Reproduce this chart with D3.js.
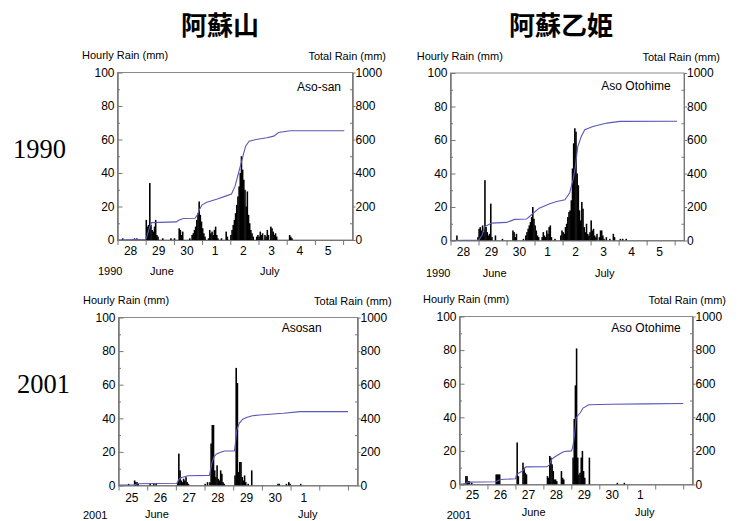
<!DOCTYPE html>
<html><head><meta charset="utf-8">
<script src="https://cdn.jsdelivr.net/npm/d3@7"></script>
<style>
body{margin:0;background:#fff;}
svg{display:block;}
text{font-family:"Liberation Sans",Arial,sans-serif;fill:#000;}
</style></head>
<body>
<svg id="chart" width="741" height="521"></svg>
<script>
// ---------- labels ----------
const columnTitles = ["阿蘇山", "阿蘇乙姫"];
const yearLabels = ["1990", "2001"];
const stationNames = ["Aso-san", "Aso Otohime", "Asosan", "Aso Otohime"];
const dayLabels1990 = ["28", "29", "30", "1", "2", "3", "4", "5"];
const dayLabels2001 = ["25", "26", "27", "28", "29", "30", "1"];
const hourlyTicks = [0, 20, 40, 60, 80, 100];
const hourlyMinorTicks = [10, 30, 50, 70, 90];
const totalTicks = [0, 200, 400, 600, 800, 1000];
const totalMinorTicks = [100, 300, 500, 700, 900];
const dayBoundaries = [0, 24, 48, 72, 96, 120, 144, 168, 192];

// ---------- Aso-san 1990 (hours from 28 June 00:00) ----------
const asoSan1990Hours = [4,14,16,24,25,26,27,28,29,30,31,32,33,34,38,45,48,52,53,54,55,61,63,64,65,66,67,68,69,70,71,72,73,74,77,78,79,80,81,82,83,84,85,88,92,93,96,97,98,99,100,101,102,103,104,105,106,107,108,109,110,111,112,113,114,115,118,119,120,121,122,123,125,126,127,128,130,131,132,133,134,135,146,147,148];
const asoSan1990Rain = [1,1,1,12,8,9,34,9,6,5,8,12,3,2,1,1,1,7,6,3,5,1,3,4,6,8,12,16,23,15,11,7,4,2,1,6,4,5,3,6,8,3,1,1,5,2,3,6,9,12,16,21,26,32,40,50,42,36,30,20,29,15,10,6,4,2,2,3,2,5,3,4,3,2,6,3,8,7,5,3,4,2,3,2,1];
const asoSan1990TotalHours = [0,24,25,27,29,50,52,56,66,68,70,72,76,85,92,97,100,103,106,109,112,118,127,133,137,147,193];
const asoSan1990Total = [0,4,20,70,104,108,118,128,130,150,185,210,225,245,262,275,320,400,480,560,590,600,610,620,642,652,652];

// ---------- Aso Otohime 1990 ----------
const asoOtohime1990Hours = [5,23,24,25,26,27,28,29,30,31,32,33,34,35,38,44,53,54,55,56,62,64,65,66,67,68,69,70,71,72,73,74,75,78,79,80,81,82,83,84,85,86,89,94,95,96,97,98,99,100,101,102,103,104,105,106,107,108,109,110,111,112,113,114,115,116,117,118,119,120,121,122,123,124,125,127,128,129,130,131,133,136,139,140,145,147,150];
const asoOtohime1990Rain = [3,2,7,8,6,9,5,36,8,5,3,4,22,2,3,1,6,5,2,4,1,3,5,7,9,11,14,20,13,9,6,3,2,2,5,3,2,6,4,8,9,2,1,3,6,5,4,8,10,14,17,18,24,43,58,67,65,40,33,18,12,23,19,8,5,10,4,3,5,12,6,7,3,2,4,2,6,6,3,1,2,1,4,2,1,1,1];
const asoOtohime1990TotalHours = [0,24,27,29,35,48,55,65,68,71,76,85,91,98,102,105,107,109,112,115,122,134,145,194];
const asoOtohime1990Total = [0,2,30,80,104,108,126,128,145,164,193,220,233,243,283,363,442,561,621,661,681,701,711,712];

// ---------- Asosan 2001 (hours from 25 June 00:00) ----------
const asosan2001Hours = [8,13,14,15,16,26,29,31,49,50,51,52,53,54,55,56,57,58,72,74,76,77,78,79,80,81,82,83,84,85,86,87,88,97,98,99,100,101,102,103,104,105,106,108,111,133,134,140,142,143,152];
const asosan2001Rain = [1,3,2,2,1,1,1,1,2,19,9,3,2,4,3,5,2,1,1,2,2,25,36,36,9,5,12,4,3,9,7,2,1,6,70,61,8,14,14,5,3,6,2,1,9,1,1,1,2,1,1];
const asosan2001TotalHours = [0,13,16,31,49,50,51,53,58,76,77,78,80,82,86,89,97,98,99,101,104,107,112,118,138,152,192];
const asosan2001Total = [2,4,10,12,13,30,40,48,58,60,90,130,172,188,200,205,206,260,330,370,395,405,415,420,430,440,440];

// ---------- Aso Otohime 2001 ----------
const asoOtohime2001Hours = [5,6,7,8,10,31,32,33,34,49,50,54,55,56,57,75,76,77,78,79,80,81,82,83,87,88,89,97,98,99,100,101,102,103,104,105,106,107,111,135,141];
const asoOtohime2001Rain = [5,5,2,2,1,6,6,6,6,25,5,13,10,7,6,5,4,17,16,12,8,3,3,2,8,4,3,16,39,59,81,16,6,7,16,20,8,4,16,1,1];
const asoOtohime2001TotalHours = [0,5,7,31,35,48,49,50,54,57,75,77,79,82,88,90,96,97,98,99,100,101,104,106,111,130,160,192];
const asoOtohime2001Total = [0,5,14,16,30,34,59,64,80,105,106,115,150,165,190,196,200,216,255,314,395,405,430,455,475,478,480,482];

// ---------- layout ----------
const panels = [
  {box:[117.5,352.5,240,72.5], hours:asoSan1990Hours, rain:asoSan1990Rain, th:asoSan1990TotalHours, tv:asoSan1990Total,
   station:stationNames[0], days:dayLabels1990, stationX:341, stationY:90.5,
   hrX:82, hrY:59, trX:386, trY:59.5, dayY:255,
   bottom:[{t:yearLabels[0],x:98,y:275},{t:"June",x:150,y:275},{t:"July",x:260,y:275}]},
  {box:[450.5,684,240.5,73], hours:asoOtohime1990Hours, rain:asoOtohime1990Rain, th:asoOtohime1990TotalHours, tv:asoOtohime1990Total,
   station:stationNames[1], days:dayLabels1990, stationX:670.7, stationY:89.5,
   hrX:416.7, hrY:60, trX:720, trY:61, dayY:256,
   bottom:[{t:yearLabels[0],x:426,y:276.5},{t:"June",x:482.7,y:276.5},{t:"July",x:595,y:276.5}]},
  {box:[118.5,357.5,485.5,317.5], hours:asosan2001Hours, rain:asosan2001Rain, th:asosan2001TotalHours, tv:asosan2001Total,
   station:stationNames[2], days:dayLabels2001, stationX:321.7, stationY:332,
   hrX:83, hrY:303.5, trX:391.7, trY:304.5, dayY:502,
   bottom:[{t:yearLabels[1],x:83,y:518.5},{t:"June",x:145,y:517.5},{t:"July",x:298,y:518}]},
  {box:[459.5,692.5,484.5,316.5], hours:asoOtohime2001Hours, rain:asoOtohime2001Rain, th:asoOtohime2001TotalHours, tv:asoOtohime2001Total,
   station:stationNames[3], days:dayLabels2001, stationX:680.7, stationY:332,
   hrX:423, hrY:303, trX:726, trY:304, dayY:498.5,
   bottom:[{t:yearLabels[1],x:446.7,y:518.5},{t:"June",x:521.7,y:516},{t:"July",x:635,y:516}]}
];

const svg = d3.select("#chart");

// column titles
svg.selectAll("text.title").data(columnTitles).join("text")
  .attr("class","title")
  .attr("x",(d,i)=>[220,561][i]).attr("y",35)
  .attr("text-anchor","middle")
  .style("font-family",'"Noto Sans CJK JP","Noto Sans CJK SC",sans-serif')
  .style("font-weight","700").style("font-size","26px")
  .text(d=>d);

// year labels
svg.selectAll("text.year").data(yearLabels).join("text")
  .attr("class","year")
  .attr("x",(d,i)=>[13,17][i]).attr("y",(d,i)=>[158,393][i])
  .style("font-family",'"Liberation Serif","Times New Roman",serif')
  .style("font-size","26.5px")
  .text(d=>d);

panels.forEach(p=>{
  const [x0,x1,y0,y1] = p.box;
  const x = d3.scaleLinear().domain([0,200]).range([x0,x1]);
  const yL = d3.scaleLinear().domain([0,100]).range([y0,y1]);
  const yR = d3.scaleLinear().domain([0,1000]).range([y0,y1]);
  const g = svg.append("g");

  // frame
  g.append("rect").attr("x",x0).attr("y",y1).attr("width",x1-x0).attr("height",y0-y1)
    .attr("fill","none").attr("stroke","#8a8a8a").attr("stroke-width",1);

  // bars
  g.selectAll("rect.bar").data(p.hours.map((h,i)=>({h,v:p.rain[i]}))).join("rect")
    .attr("class","bar")
    .attr("x",d=>x(d.h)-0.2).attr("width",d=>x(d.h+1)-x(d.h)+0.4)
    .attr("y",d=>yL(d.v)).attr("height",d=>y0-yL(d.v))
    .attr("fill","#000");

  // cumulative line
  const line = d3.line().x(d=>x(d[0])).y(d=>yR(d[1]));
  g.append("path").datum(p.th.map((h,i)=>[h,p.tv[i]]))
    .attr("d",line).attr("fill","none").attr("stroke","#5a58b8").attr("stroke-width",1.1);

  // left axis
  const la = g.append("g").attr("transform",`translate(${x0},0)`)
    .call(d3.axisLeft(yL).tickValues(hourlyTicks).tickSizeInner(-5).tickSizeOuter(0).tickPadding(3).tickFormat(d3.format("d")));
  const lm = g.append("g").attr("transform",`translate(${x0},0)`)
    .call(d3.axisLeft(yL).tickValues(hourlyMinorTicks).tickSizeInner(-2.5).tickSizeOuter(0).tickFormat(""));
  // right axis
  const ra = g.append("g").attr("transform",`translate(${x1},0)`)
    .call(d3.axisRight(yR).tickValues(totalTicks).tickSizeInner(3).tickSizeOuter(0).tickPadding(0).tickFormat(d3.format("d")));
  const rm = g.append("g").attr("transform",`translate(${x1},0)`)
    .call(d3.axisRight(yR).tickValues(totalMinorTicks).tickSizeInner(-2.5).tickSizeOuter(0).tickFormat(""));
  // bottom axis
  const ba = g.append("g").attr("transform",`translate(0,${y0})`)
    .call(d3.axisBottom(x).tickValues(dayBoundaries).tickSizeInner(5).tickSizeOuter(0).tickFormat(""));
  [la,lm,ra,rm,ba].forEach(a=>{
    a.select(".domain").attr("stroke","#777");
    a.selectAll(".tick line").attr("stroke","#777");
    a.selectAll(".tick text").style("font-family",'"Liberation Sans",Arial,sans-serif').style("font-size","12px").attr("fill","#000");
  });

  // day labels
  g.selectAll("text.day").data(p.days).join("text")
    .attr("class","day")
    .attr("x",(d,i)=>x(i*24+12)-1).attr("y",p.dayY)
    .attr("text-anchor","middle").style("font-size","12px").text(d=>d);

  // axis titles
  g.append("text").attr("x",p.hrX).attr("y",p.hrY).style("font-size","11px").text("Hourly Rain (mm)");
  g.append("text").attr("x",p.trX).attr("y",p.trY).attr("text-anchor","end").style("font-size","11px").text("Total Rain (mm)");
  g.append("text").attr("x",p.stationX).attr("y",p.stationY).attr("text-anchor","end").style("font-size","12px").text(p.station);

  // year / month
  g.selectAll("text.bl").data(p.bottom).join("text")
    .attr("class","bl").attr("x",d=>d.x).attr("y",d=>d.y).style("font-size","11px").text(d=>d.t);
});
</script>
</body></html>
